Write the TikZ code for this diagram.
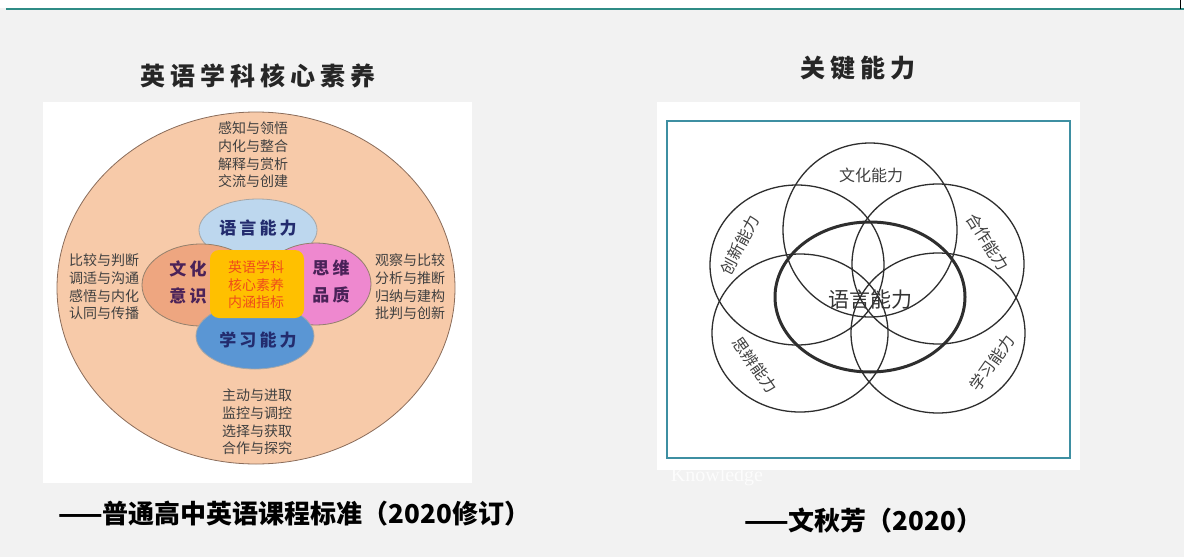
\documentclass[tikz,border=0pt]{standalone}
\usepackage{fontspec}
\usetikzlibrary{shapes.geometric}
\newfontfamily\cjk{Noto Sans CJK SC}
\newfontfamily\cjkls[LetterSpace=18]{Noto Sans CJK SC}
\newfontfamily\cjktitle[LetterSpace=20]{Noto Sans CJK SC}
\setmainfont{Liberation Serif}
\definecolor{bg}{HTML}{F2F2F2}
\definecolor{teal1}{HTML}{2F8C86}
\definecolor{frame}{HTML}{3E8FA2}
\definecolor{peach}{HTML}{F7CAA9}
\definecolor{peachline}{HTML}{8A6C5A}
\definecolor{lblue}{HTML}{BDD7EE}
\definecolor{salmon}{HTML}{EEA680}
\definecolor{pinkc}{HTML}{EE88CF}
\definecolor{mblue}{HTML}{5A96D4}
\definecolor{gold}{HTML}{FFC000}
\definecolor{redor}{HTML}{EE4C1B}
\definecolor{navy}{HTML}{232C6E}
\definecolor{dpurple}{HTML}{4A2258}
\definecolor{txtgray}{HTML}{404040}
\definecolor{ring}{HTML}{2E2E2E}
\tikzset{
  small/.style={font={\cjk\fontsize{14}{17.6}\selectfont}, text=txtgray, align=center, inner sep=0pt},
  petal/.style={draw=#1, line width=0.8pt, ellipse, inner sep=0pt},
  keylabel/.style={font={\cjkls\bfseries\fontsize{17}{27}\selectfont}, align=center, inner sep=0pt},
  vring/.style={draw=ring, line width=1.3pt, ellipse, inner sep=0pt},
  vlabel/.style={font={\cjk\fontsize{16}{18}\selectfont}, text=txtgray, inner sep=0pt},
  titletext/.style={font={\cjktitle\bfseries\fontsize{25}{27}\selectfont}, text=black!85, inner sep=0pt},
  captext/.style={font={\cjk\bfseries\fontsize{26}{28}\selectfont}, text=black, inner sep=0pt, anchor=west},
}
\begin{document}
\begin{tikzpicture}[x=1pt,y=-1pt]
\useasboundingbox (0,0) rectangle (1184,557);
% background
\fill[white] (0,0) rectangle (1184,8);
\fill[bg] (0,8) rectangle (1184,557);
\coordinate (tl) at (6,9);
\coordinate (tr) at (1184,9);
\draw[teal1, line width=2.8pt] (tl) -- (tr);
\coordinate (vt) at (1180.5,0);
\coordinate (vb) at (1180.5,9);
\draw[black, line width=1pt] (vt) -- (vb);

% ---------------- left picture ----------------
\node[titletext] (ltitle) at (258,76) {英语学科核心素养};
\fill[white] (43,102) rectangle (472,483);
\node[draw=peachline, line width=0.8pt, fill=peach, ellipse, inner sep=0pt,
      minimum width=398pt, minimum height=352pt] (big) at (256,288) {};

\node[small] (ttop) at (253,155) {感知与领悟\\内化与整合\\解释与赏析\\交流与创建};
\node[small] (tleft) at (104,287) {比较与判断\\调适与沟通\\感悟与内化\\认同与传播};
\node[small] (tright) at (410,287) {观察与比较\\分析与推断\\归纳与建构\\批判与创新};
\node[small] (tbot) at (257,422) {主动与进取\\监控与调控\\选择与获取\\合作与探究};

\node[petal=gray!70, fill=lblue, minimum width=118pt, minimum height=62pt] (lang) at (258,230) {};
\node[petal=gray!70!brown, fill=salmon, minimum width=118pt, minimum height=82pt] (cult) at (201,285) {};
\node[petal=gray!70!brown, fill=pinkc, minimum width=110pt, minimum height=82pt] (think) at (316,284) {};
\node[petal=gray!70, fill=mblue, minimum width=118pt, minimum height=66pt] (learn) at (255,336) {};
\node[fill=gold, rounded corners=9pt, minimum width=94pt, minimum height=68pt, inner sep=0pt] (core) at (257,284) {};

\node[keylabel, text=navy] (langt) at (258,228) {语言能力};
\node[keylabel, text=dpurple] (cultt) at (188,282) {文化\\意识};
\node[keylabel, text=dpurple] (thinkt) at (331,282) {思维\\品质};
\node[keylabel, text=navy] (learnt) at (258,340) {学习能力};
\node[font={\cjk\fontsize{14}{17.5}\selectfont}, text=redor, align=center, inner sep=0pt] (coret) at (256,285) {英语学科\\核心素养\\内涵指标};

\node[captext] (lcap) at (58,514) {——普通高中英语课程标准（2020修订）};

% ---------------- right picture ----------------
\node[titletext] (rtitle) at (858,68) {关键能力};
\fill[white] (657,102) rectangle (1080,470);
\node[draw=frame, line width=2.4pt, rectangle, inner sep=0pt,
      minimum width=403pt, minimum height=337pt] (frm) at (868.5,289.5) {};

\node[vring, minimum width=174pt, minimum height=174pt] (c1) at (870,230) {};
\node[vring, minimum width=174pt, minimum height=160pt] (c2) at (797,265) {};
\node[vring, minimum width=172pt, minimum height=160pt] (c3) at (938,264) {};
\node[vring, minimum width=176pt, minimum height=158pt] (c4) at (800,333) {};
\node[vring, minimum width=174pt, minimum height=160pt] (c5) at (938,333) {};
\node[draw=ring, line width=3pt, ellipse, inner sep=0pt, minimum width=190pt, minimum height=150pt] (c0) at (870,297) {};

\node[vlabel] (l1) at (871,175) {文化能力};
\node[vlabel, rotate=62] (l2) at (740,245) {创新能力};
\node[vlabel, rotate=-58] (l3) at (988,242) {合作能力};
\node[vlabel, rotate=-55] (l4) at (755,365) {思辨能力};
\node[vlabel, rotate=55] (l5) at (992,363) {学习能力};
\node[font={\cjk\fontsize{21}{23}\selectfont}, text=black!80, inner sep=0pt] (l0) at (870,300) {语言能力};

\node[font={\fontsize{20}{22}\selectfont}, text=white, opacity=0.8, inner sep=0pt] (wm) at (717,477) {Knowledge};

\node[captext] (rcap) at (744,521) {——文秋芳（2020）};
\end{tikzpicture}
\end{document}
